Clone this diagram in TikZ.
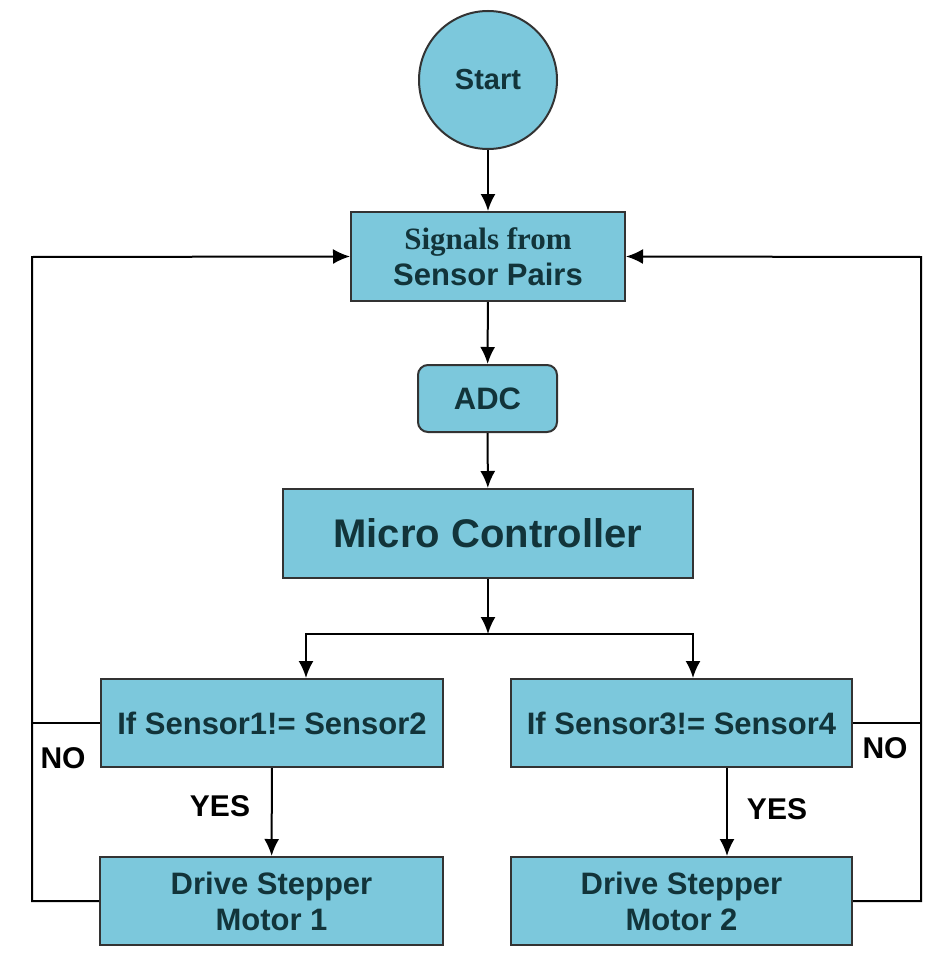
\documentclass[tikz,border=0pt]{standalone}
\usepackage{fontspec}
\setmainfont{Liberation Sans}
\newfontfamily\serifbf{Liberation Serif}
\usetikzlibrary{arrows.meta}
\definecolor{boxfill}{RGB}{124,200,220}
\definecolor{boxtext}{RGB}{18,52,58}
\begin{document}
\begin{tikzpicture}[x=1pt,y=-1pt,line width=2pt,
  flowbox/.style={draw=black!80,fill=boxfill,line width=2pt,text=boxtext,align=center,inner sep=0pt,
    font=\bfseries\fontsize{31}{36}\selectfont},
  flowarrow/.style={-{Latex[length=17pt,width=15pt]}},
  ynlabel/.style={font=\bfseries\fontsize{30}{36}\selectfont}]
  \useasboundingbox[fill=white] (0,0) rectangle (929,963);

  % main column
  \node[flowbox,circle,minimum size=138pt,font=\bfseries\fontsize{29}{34}\selectfont] (start) at (488,80) {Start};
  \node[flowbox,minimum width=274pt,minimum height=89pt] (signals) at (488,256.5) {{\serifbf\bfseries Signals from}\\Sensor Pairs};
  \node[flowbox,rounded corners=10pt,minimum width=139pt,minimum height=67pt] (adc) at (487.5,398.5) {ADC};
  \node[flowbox,minimum width=410pt,minimum height=89pt,font=\bfseries\fontsize{40}{48}\selectfont] (mcu) at (488,533.5) {Micro Controller};

  % two branches
  \node[flowbox,minimum width=342pt,minimum height=88pt] (if1) at (272,723) {If Sensor1!= Sensor2};
  \node[flowbox,minimum width=341pt,minimum height=88pt] (if2) at (681.5,723) {If Sensor3!= Sensor4};
  \node[flowbox,minimum width=343pt,minimum height=88pt] (drive1) at (271.5,901) {Drive Stepper\\Motor 1};
  \node[flowbox,minimum width=341pt,minimum height=88pt] (drive2) at (681.5,901) {Drive Stepper\\Motor 2};

  \draw[flowarrow] (start) -- (signals);
  \draw[flowarrow] (signals) -- (adc);
  \draw[flowarrow] (adc) -- (mcu);
  \coordinate (split) at (488,634);
  \draw[flowarrow] (mcu) -- (split);
  \draw[flowarrow] (split) -| ([xshift=34pt]if1.north);
  \draw[flowarrow] (split) -| ([xshift=11.5pt]if2.north);

  \draw[flowarrow] (if1) -- (drive1);
  \draw[flowarrow] ([xshift=45.5pt]if2.south) -- ([xshift=45.5pt]drive2.north);

  % feedback loops
  \coordinate (loopL) at (32,257);
  \coordinate (loopR) at (921,257);
  \draw[flowarrow] (drive1.west) -| (loopL) -- (signals.west);
  \draw (if1.west) -- (if1.west -| loopL);
  \draw[flowarrow] (drive2.east) -| (loopR) -- (signals.east);
  \draw (if2.east) -- (if2.east -| loopR);

  \node[ynlabel] (no1) at (63,758) {NO};
  \node[ynlabel] (no2) at (885,748) {NO};
  \node[ynlabel] (yes1) at (220,806) {YES};
  \node[ynlabel] (yes2) at (777,809) {YES};
\end{tikzpicture}
\end{document}
